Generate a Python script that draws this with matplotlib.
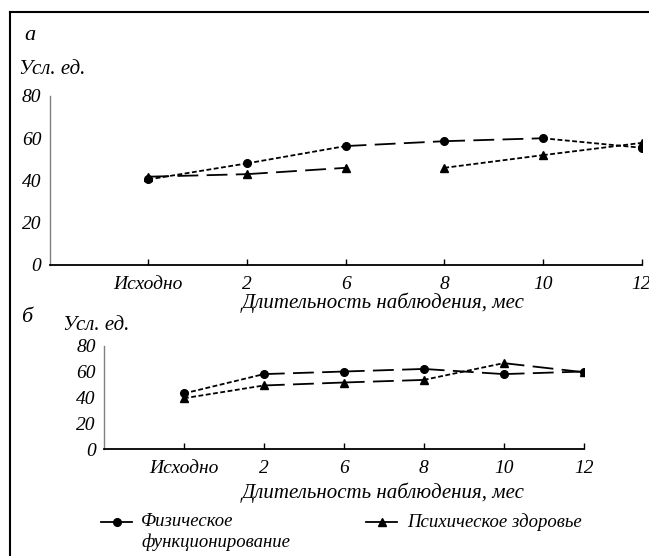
import matplotlib.pyplot as plt
from matplotlib.lines import Line2D

plt.rcParams['font.family'] = ['Liberation Serif', 'DejaVu Serif']
plt.rcParams['font.style'] = 'italic'
plt.rcParams['lines.scale_dashes'] = False

# categories (months of follow-up)
categories = ['Исходно', '2', '6', '8', '10', '12']

# panel a
phys_a = [40.5, 48.1, 56.3, 58.6, 60.0, 55.5]
ment_a = [41.8, 43.0, 46.0, 46.0, 52.0, 57.8]
# panel b
phys_b = [43.0, 58.0, 60.0, 62.0, 58.0, 60.0]
ment_b = [39.3, 49.2, 51.5, 53.5, 66.5, 59.5]

yticks = [0, 20, 40, 60, 80]
ylabel = 'Усл. ед.'
xlabel = 'Длительность наблюдения, мес'
legend_phys = ['Физическое', 'функционирование']
legend_ment = 'Психическое здоровье'

# segment styles between neighbouring points (s = short dash, l = long dash, None = gap)
seg_phys_a = ['s', 's', 'l', 'l', 's']
seg_ment_a = ['l', 'l', None, 's', 's']
seg_phys_b = ['s', 'l', 'l', 'l', 'l']
seg_ment_b = ['s', 'l', 'l', 's', 'l']

dash = {'s': (0, (3.5, 1.8)), 'l': (0, (15, 6))}

W, H = 649, 556
fig = plt.figure(figsize=(W / 100, H / 100), dpi=100)


def draw_panel(rect, phys, ment, seg_p, seg_m):
    ax = fig.add_axes(rect)
    x = list(range(1, len(categories) + 1))
    for vals, segs, mk in [(phys, seg_p, 'o'), (ment, seg_m, '^')]:
        for i, st in enumerate(segs):
            if st is None:
                continue
            ax.plot(x[i:i + 2], vals[i:i + 2], color='black', lw=1.3, linestyle=dash[st])
        ax.plot(x, vals, linestyle='none', marker=mk, color='black', markersize=5.5)
    ax.set_xlim(0, 6)
    ax.set_ylim(0, 80)
    ax.set_xticks(x)
    ax.set_xticklabels(categories, fontsize=14)
    ax.set_yticks(yticks)
    ax.set_yticklabels([str(v) for v in yticks], fontsize=14)
    ax.spines['top'].set_visible(False)
    ax.spines['right'].set_visible(False)
    ax.spines['left'].set_color('#808080')
    ax.spines['left'].set_linewidth(1.0)
    ax.spines['bottom'].set_linewidth(1.3)
    ax.tick_params(axis='x', direction='in', length=4, width=1, pad=8, colors='black')
    ax.tick_params(axis='y', length=0, pad=6)
    return ax


ax_a = draw_panel([49.7 / W, 1 - 265 / H, 591.8 / W, 169 / H],
                  phys_a, ment_a, seg_phys_a, seg_ment_a)
ax_b = draw_panel([104 / W, 1 - 449 / H, 479.6 / W, 103.3 / H],
                  phys_b, ment_b, seg_phys_b, seg_ment_b)

# panel letters and axis captions
fig.text(30 / W, 1 - 35 / H, 'а', fontsize=16, ha='center', va='center')
fig.text(19 / W, 1 - 70 / H, ylabel, fontsize=15, ha='left', va='center')
fig.text(383 / W, 1 - 303 / H, xlabel, fontsize=15, ha='center', va='center')

fig.text(27 / W, 1 - 318 / H, 'б', fontsize=16, ha='center', va='center')
fig.text(63 / W, 1 - 325 / H, ylabel, fontsize=15, ha='left', va='center')
fig.text(383 / W, 1 - 493 / H, xlabel, fontsize=15, ha='center', va='center')

# legend keys and labels
ly = 1 - 522 / H
for x0, x1, mk in [(101, 132, 'o'), (366, 397, '^')]:
    fig.add_artist(Line2D([x0 / W, x1 / W], [ly, ly], color='black', lw=1.3))
    fig.add_artist(Line2D([(x0 + x1) / 2 / W], [ly], color='black', marker=mk,
                          markersize=5.5, linestyle='none'))
fig.text(141 / W, ly, legend_phys[0], fontsize=13.5, ha='left', va='center')
fig.text(141 / W, 1 - 542 / H, legend_phys[1], fontsize=13.5, ha='left', va='center')
fig.text(407 / W, ly, legend_ment, fontsize=13.5, ha='left', va='center')

# outer frame (left and top edges)
fig.add_artist(Line2D([10 / W, 10 / W], [0, 1 - 12 / H], color='black', lw=1.5))
fig.add_artist(Line2D([10 / W, 1], [1 - 12 / H, 1 - 12 / H], color='black', lw=1.5))

fig.savefig('out.png', dpi=100)
